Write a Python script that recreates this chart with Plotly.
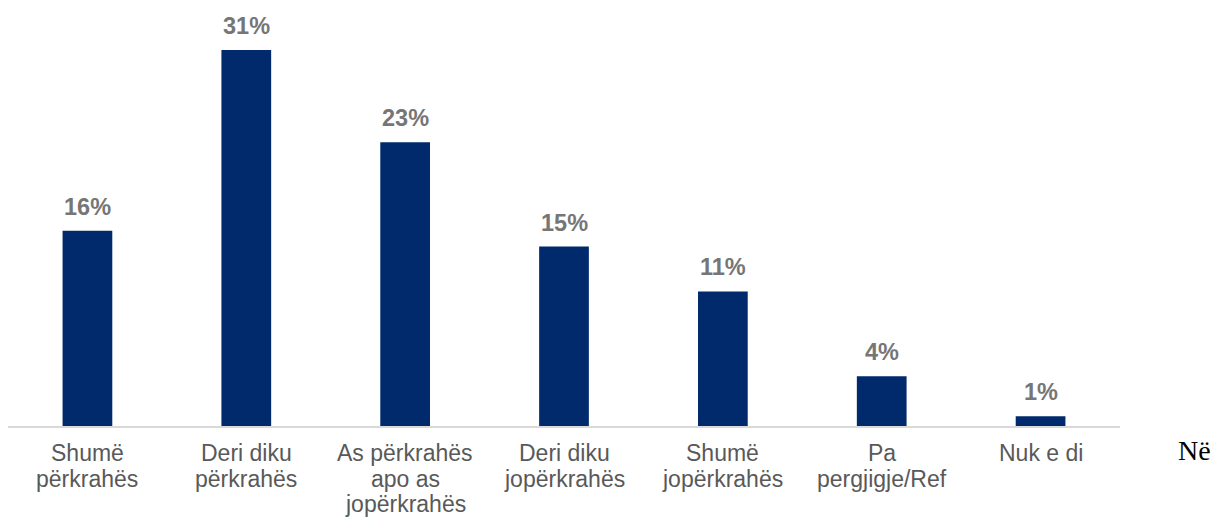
import plotly.graph_objects as go

categories = ["Shumë<br>përkrahës", "Deri diku<br>përkrahës", "As përkrahës<br>apo as<br>jopërkrahës",
              "Deri diku<br>jopërkrahës", "Shumë<br>jopërkrahës", "Pa<br>pergjigje/Ref", "Nuk e di"]
values = [16.1, 31.0, 23.4, 14.8, 11.1, 4.1, 0.8]
labels = ["16%", "31%", "23%", "15%", "11%", "4%", "1%"]

fig = go.Figure()
fig.add_trace(go.Bar(x=categories, y=values, marker=dict(color="#002A6C", line=dict(width=0)),
                     hoverinfo="skip"))

# value labels above bars
for c, v, t in zip(categories, values, labels):
    fig.add_annotation(x=c, y=v, text="<b>" + t + "</b>", showarrow=False, yanchor="bottom",
                       yshift=9, font=dict(family="Liberation Sans, Arial", size=23.5, color="#767676"))

# category labels, one annotation per line for tighter line spacing
for c in categories:
    for i, line in enumerate(c.split("<br>")):
        fig.add_annotation(x=c, y=0, text=line, showarrow=False, yanchor="top", xanchor="center",
                           yshift=-12 - i * 25.5,
                           font=dict(family="Liberation Sans, Arial", size=23, color="#595959"))

fig.add_annotation(x=1.0674, y=-0.0577, xref="paper", yref="paper", text="Në", showarrow=False,
                   xanchor="center", yanchor="middle",
                   font=dict(family="Liberation Serif, Times New Roman", size=28, color="#000000"))

fig.update_layout(
    width=1215, height=521,
    margin=dict(l=8, r=95, t=10, b=95, autoexpand=False),
    paper_bgcolor="white", plot_bgcolor="white",
    bargap=0.687, showlegend=False,
    font=dict(family="Liberation Sans, Arial", size=22, color="#595959"),
)
fig.update_xaxes(showline=True, linecolor="#D9D9D9", linewidth=1.5, ticks="", showgrid=False,
                 showticklabels=False, automargin=False)
fig.update_yaxes(range=[0, 34.3], visible=False, showgrid=False, automargin=False)

fig.write_html("out.html", config={"displayModeBar": False},
               post_script="document.body.style.margin='0';document.body.style.overflow='hidden';")
